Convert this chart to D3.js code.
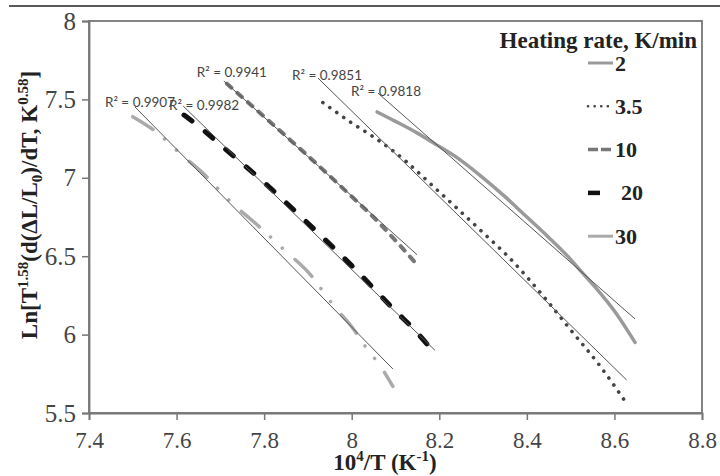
<!DOCTYPE html>
<html>
<head>
<meta charset="utf-8">
<script src="https://cdn.jsdelivr.net/npm/d3@7"></script>
<style>
  body { margin: 0; background: #fff; }
  svg { display: block; }
  .serif { font-family: "Liberation Serif", "DejaVu Serif", serif; }
</style>
</head>
<body>
<svg id="chart" width="720" height="476"></svg>
<script>
(function() {

    // heating rates, K/min
    var rates = ["2", "3.5", "10", "20", "30"];

    // measured curves (10^4/T, Ln[...])
    var x2   = [8.058, 8.10, 8.15, 8.194, 8.25, 8.30, 8.35, 8.40, 8.45, 8.50, 8.525, 8.56, 8.60, 8.647];
    var y2   = [7.42, 7.36, 7.285, 7.21, 7.11, 7.00, 6.88, 6.75, 6.62, 6.48, 6.40, 6.29, 6.15, 5.95];

    var x35  = [7.934, 8.00, 8.05, 8.10, 8.20, 8.30, 8.36, 8.445, 8.50, 8.567, 8.628];
    var y35  = [7.48, 7.35, 7.26, 7.16, 6.91, 6.65, 6.49, 6.22, 6.03, 5.80, 5.56];

    var x10  = [7.715, 7.80, 7.90, 8.00, 8.06, 8.10, 8.151];
    var y10  = [7.60, 7.39, 7.14, 6.88, 6.72, 6.60, 6.44];

    var x20  = [7.617, 7.65, 7.70, 7.80, 7.90, 8.00, 8.10, 8.14, 8.19];
    var y20  = [7.40, 7.33, 7.21, 6.97, 6.71, 6.44, 6.15, 6.04, 5.88];

    var x30  = [7.50, 7.55, 7.61, 7.66, 7.73, 7.78, 7.85, 7.90, 7.96, 8.00, 8.04, 8.06, 8.094];
    var y30  = [7.39, 7.30, 7.15, 7.03, 6.83, 6.71, 6.53, 6.40, 6.18, 6.05, 5.89, 5.82, 5.67];

    // linear fits: [start, end]
    var fitX = [[8.060, 8.647], [7.923, 8.628], [7.708, 8.149], [7.615, 8.19], [7.505, 8.094]];
    var fitY = [[7.54, 6.10], [7.636, 5.71], [7.617, 6.51], [7.458, 5.90], [7.452, 5.781]];
    var r2   = ["0.9818", "0.9851", "0.9941", "0.9982", "0.9907"];

    // axis ticks
    var xTicks = [7.4, 7.6, 7.8, 8.0, 8.2, 8.4, 8.6, 8.8];
    var yTicks = [5.5, 6, 6.5, 7, 7.5, 8];

    var curves = [[x2, y2], [x35, y35], [x10, y10], [x20, y20], [x30, y30]];

    var styles = [
        {color: "#9a9a9a", width: 3.5, dash: null},
        {color: "#444", width: 3.6, dash: "0.1,8.4"},
        {color: "#777", width: 4, dash: "6,8"},
        {color: "#111", width: 5, dash: "10,17"},
        {color: "#aaa", width: 3.5, dash: "24,15,0.1,16,0.1,17"}
    ];

    var svg = d3.select("#chart");

    var left = 89, right = 702, top = 21, bottom = 413;

    var xScale = d3.scaleLinear().domain([7.4, 8.8]).range([left, right]);
    var yScale = d3.scaleLinear().domain([5.5, 8]).range([bottom, top]);

    // rule across the top of the figure
    svg.append("line")
        .attr("x1", 9).attr("x2", 720)
        .attr("y1", 6).attr("y2", 6)
        .attr("stroke", "#222").attr("stroke-width", 1.5);

    // frame
    svg.append("rect")
        .attr("x", left).attr("y", top)
        .attr("width", right - left).attr("height", bottom - top)
        .attr("fill", "none").attr("stroke", "#777").attr("stroke-width", 1.8);

    var xAxis = svg.append("g")
        .attr("transform", "translate(0," + bottom + ")")
        .call(d3.axisBottom(xScale).tickValues(xTicks).tickSize(7).tickPadding(12)
            .tickFormat(function(d) { return d === 8 ? "8" : d3.format(".1f")(d); }));

    var yAxis = svg.append("g")
        .attr("transform", "translate(" + left + ",0)")
        .call(d3.axisLeft(yScale).tickValues(yTicks).tickSize(7).tickPadding(6)
            .tickFormat(function(d) { return d % 1 === 0 ? String(d) : d3.format(".1f")(d); }));

    [xAxis, yAxis].forEach(function(ax) {
        ax.attr("font-family", null);
        ax.select(".domain").attr("stroke", "#777").attr("stroke-width", 1.8);
        ax.selectAll(".tick line").attr("stroke", "#777").attr("stroke-width", 1.5);
        ax.selectAll(".tick text")
            .attr("fill", "#444")
            .classed("serif", true);
    });
    xAxis.attr("font-size", 23);
    yAxis.attr("font-size", 25);

    // curves
    var line = d3.line()
        .x(function(d) { return xScale(d[0]); })
        .y(function(d) { return yScale(d[1]); })
        .curve(d3.curveMonotoneX);

    curves.forEach(function(c, i) {
        var pts = c[0].map(function(v, k) { return [v, c[1][k]]; });
        var s = styles[i];
        svg.append("path")
            .datum(pts)
            .attr("d", line)
            .attr("fill", "none")
            .attr("stroke", s.color)
            .attr("stroke-width", s.width)
            .attr("stroke-linecap", "round")
            .attr("stroke-dasharray", s.dash);
    });

    // linear fits and R² labels
    var labelShift = [[8, 3], [9, 2], [8, -4], [21, 4], [5, 0]];

    fitX.forEach(function(fx, i) {
        svg.append("line")
            .attr("x1", xScale(fx[0])).attr("y1", yScale(fitY[i][0]))
            .attr("x2", xScale(fx[1])).attr("y2", yScale(fitY[i][1]))
            .attr("stroke", "#555").attr("stroke-width", 1);

        svg.append("text")
            .attr("x", xScale(fx[0]) + labelShift[i][0])
            .attr("y", yScale(fitY[i][0]) + labelShift[i][1])
            .attr("text-anchor", "middle")
            .attr("fill", "#444")
            .style("font-family", "Lato, 'Open Sans', sans-serif")
            .style("font-size", "13.5px")
            .text("R² = " + r2[i]);
    });

    // legend
    var legend = svg.append("g").attr("class", "serif").style("font-weight", "bold");

    legend.append("text")
        .attr("x", 697).attr("y", 48)
        .attr("text-anchor", "end")
        .attr("fill", "#222")
        .style("font-size", "23px")
        .text("Heating rate, K/min");

    var legendDash = [null, "0.1,6.5", "10,3", null, null];
    var legendEnd = [613, 613, 612, 600, 613];

    rates.forEach(function(r, i) {
        var cy = 63 + i * 43.3;
        var s = styles[i];
        legend.append("line")
            .attr("x1", 588).attr("x2", legendEnd[i])
            .attr("y1", cy).attr("y2", cy)
            .attr("stroke", s.color)
            .attr("stroke-width", i === 1 ? 2.6 : s.width - 0.5)
            .attr("stroke-linecap", i === 1 ? "round" : "butt")
            .attr("stroke-dasharray", legendDash[i]);
        legend.append("text")
            .attr("x", i === 3 ? 621 : 615).attr("y", cy + 7.5)
            .attr("fill", "#222")
            .style("font-size", "22px")
            .text(r);
    });

    // axis titles
    var xt = svg.append("text")
        .attr("class", "serif")
        .attr("x", 385).attr("y", 470)
        .attr("text-anchor", "middle")
        .attr("fill", "#222")
        .style("font-weight", "bold").style("font-size", "23px");
    xt.append("tspan").text("10");
    xt.append("tspan").attr("dy", -9).style("font-size", "15px").text("4");
    xt.append("tspan").attr("dy", 9).text("/T (K");
    xt.append("tspan").attr("dy", -9).style("font-size", "15px").text("-1");
    xt.append("tspan").attr("dy", 9).text(")");

    var yt = svg.append("text")
        .attr("class", "serif")
        .attr("transform", "translate(37,205) rotate(-90)")
        .attr("text-anchor", "middle")
        .attr("fill", "#222")
        .style("font-weight", "bold").style("font-size", "23px");
    yt.append("tspan").text("Ln[T");
    yt.append("tspan").attr("dy", -9).style("font-size", "15px").text("1.58");
    yt.append("tspan").attr("dy", 9).text("(d(\u0394L/L");
    yt.append("tspan").attr("dy", 5).style("font-size", "15px").text("0");
    yt.append("tspan").attr("dy", -5).text(")/dT, K");
    yt.append("tspan").attr("dy", -9).style("font-size", "15px").text("0.58");
    yt.append("tspan").attr("dy", 9).text("]");

})();
</script>
</body>
</html>
